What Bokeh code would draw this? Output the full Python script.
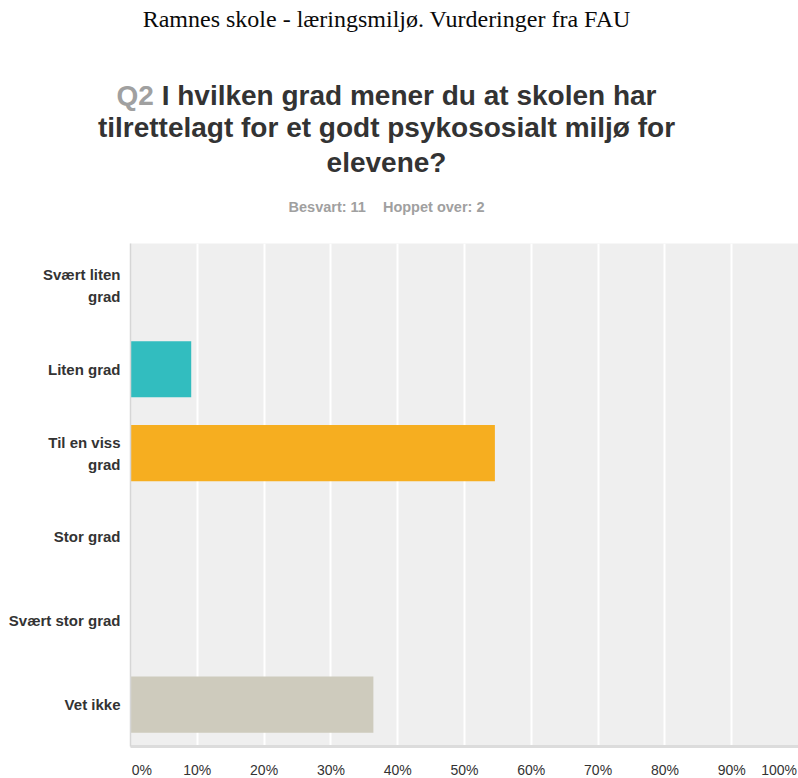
from bokeh.plotting import figure
from bokeh.models import FactorRange, Range1d, FixedTicker, ColumnDataSource, Div
from bokeh.layouts import column
from bokeh.embed import file_html
from bokeh.resources import INLINE

# ---- data ----
categories = ["Svært liten grad", "Liten grad", "Til en viss grad",
              "Stor grad", "Svært stor grad", "Vet ikke"]
percentages = [0.0, 9.09, 54.55, 0.0, 0.0, 36.36]
bar_colors = ["#7fb24a", "#32bdbf", "#f6ae20", "#6a9fd2", "#a36cb3", "#cecbbd"]
x_tick_values = [0, 10, 20, 30, 40, 50, 60, 70, 80, 90, 100]
x_tick_labels = ["0%", "10%", "20%", "30%", "40%", "50%", "60%", "70%", "80%", "90%", "100%"]
wrapped_labels = {"Svært liten grad": "Svært liten\ngrad", "Til en viss grad": "Til en viss\ngrad"}

header = "Ramnes skole - læringsmiljø. Vurderinger fra FAU"
q_number = "Q2"
title_lines = ["I hvilken grad mener du at skolen har",
               "tilrettelagt for et godt psykososialt miljø for",
               "elevene?"]
answered = "Besvart: 11"
skipped = "Hoppet over: 2"

# layout nudge so the end labels stay inside the frame (as in the original)
edge_label_shift = {0: 1.7, 100: 97.1}

FRAME_W, FRAME_H = 668, 503

display_cats = [wrapped_labels.get(c, c) for c in categories]
src = ColumnDataSource(dict(cat=display_cats, pct=percentages, color=bar_colors))

p = figure(frame_width=FRAME_W, frame_height=FRAME_H,
           y_range=FactorRange(*reversed(display_cats)),
           x_range=Range1d(0, 100),
           output_backend="svg", toolbar_location=None,
           min_border_left=130, min_border_right=0,
           min_border_top=0, min_border_bottom=32,
           background_fill_color="#efefef", border_fill_color="white",
           outline_line_color=None, margin=0)

p.hbar(y="cat", left=0, right="pct", height=0.67, fill_color="color",
       line_color=None, source=src)

# x axis
tick_pos = [edge_label_shift.get(v, v) for v in x_tick_values]
p.xaxis.ticker = FixedTicker(ticks=tick_pos)
p.xaxis.major_label_overrides = {pos: lab for pos, lab in zip(tick_pos, x_tick_labels)}
p.xaxis.major_label_text_font = "Liberation Sans"
p.xaxis.major_label_text_font_size = "14px"
p.xaxis.major_label_text_color = "#333333"
p.xaxis.major_tick_line_color = None
p.xaxis.minor_tick_line_color = None
p.xaxis.major_tick_out = 0
p.xaxis.major_tick_in = 0
p.xaxis.axis_line_color = "#dcdcdc"
p.xaxis.axis_line_width = 3
p.xaxis.major_label_standoff = 15

# y axis
p.yaxis.major_label_text_font = "Liberation Sans"
p.yaxis.major_label_text_font_style = "bold"
p.yaxis.major_label_text_font_size = "15px"
p.yaxis.major_label_text_color = "#333333"
p.yaxis.major_label_text_line_height = 1.3
p.yaxis.major_tick_line_color = None
p.yaxis.minor_tick_line_color = None
p.yaxis.major_tick_out = 0
p.yaxis.axis_line_color = "#d6d6d6"
p.yaxis.axis_line_width = 1.5
p.yaxis.major_label_standoff = 10

# grid
p.xgrid.ticker = FixedTicker(ticks=x_tick_values[1:-1])
p.xgrid.grid_line_color = "white"
p.xgrid.grid_line_width = 2
p.ygrid.visible = False

# header block
def block(text, top, font, size, color, weight="normal", left=0, width=773, align="center"):
    return (f'<div style="position:absolute;left:{left}px;top:{top}px;width:{width}px;'
            f'text-align:{align};font-family:{font};font-size:{size}px;line-height:1;'
            f'color:{color};font-weight:{weight};white-space:nowrap;">{text}</div>')

sans = "'Liberation Sans', Arial, sans-serif"
serif = "'Liberation Serif', 'Times New Roman', serif"
html = ('<div style="position:relative;width:798px;height:243px;margin:0;padding:0;">'
        + block(header, 7, serif, 24, "#0a0a0a")
        + block(f'<span style="color:#a0a0a0">{q_number}</span> {title_lines[0]}', 82, sans, 28, "#333333", "bold")
        + block(title_lines[1], 114, sans, 28, "#333333", "bold")
        + block(title_lines[2], 149, sans, 28, "#333333", "bold")
        + block(f'{answered}<span style="display:inline-block;width:17px"></span>{skipped}',
                200, sans, 14.5, "#a0a0a0", "bold")
        + '</div>')
head = Div(text=html, width=798, height=243, margin=0)

layout = column(head, p, spacing=0, margin=0)
open("out.html", "w").write(file_html(layout, INLINE))
